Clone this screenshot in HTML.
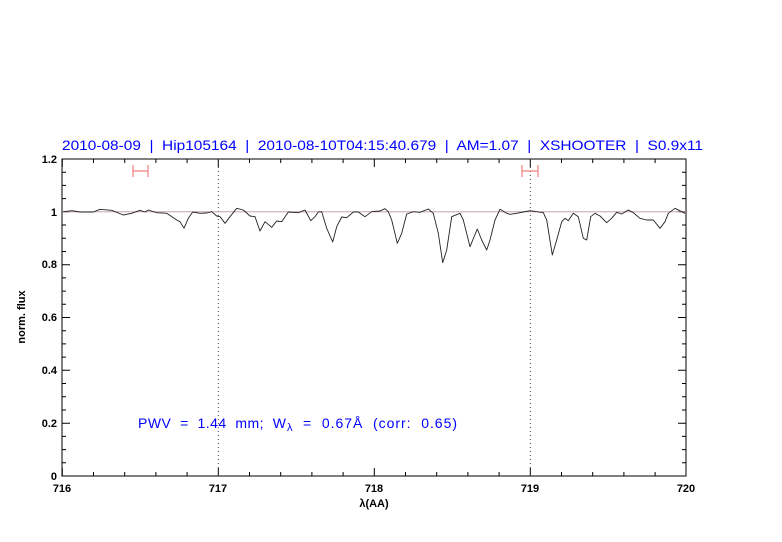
<!DOCTYPE html>
<html><head><meta charset="utf-8"><style>body{margin:0;background:#fff}svg{display:block}</style></head><body>
<svg width="782" height="542" viewBox="0 0 782 542" xmlns="http://www.w3.org/2000/svg" font-family="Liberation Sans, sans-serif">
<text x="62" y="150" font-size="14" fill="#0000ff" textLength="641" lengthAdjust="spacingAndGlyphs" xml:space="preserve">2010-08-09  |  Hip105164  |  2010-08-10T04:15:40.679  |  AM=1.07  |  XSHOOTER  |  S0.9x11</text>
<rect x="62" y="159" width="624" height="317" fill="none" stroke="#000" stroke-width="1"/>
<g stroke="#000" stroke-width="1">
<path d="M62.3 476v-8M218.3 476v-8M374.3 476v-8M530.3 476v-8M686 476v-8M62.3 159v8M218.3 159v8M374.3 159v8M530.3 159v8M686 159v8
M93.5 476v-4M124.7 476v-4M155.9 476v-4M187.1 476v-4M249.5 476v-4M280.7 476v-4M311.9 476v-4M343.1 476v-4M405.5 476v-4M436.7 476v-4M467.9 476v-4M499.1 476v-4M561.5 476v-4M592.7 476v-4M623.9 476v-4M655.1 476v-4
M93.5 159v4M124.7 159v4M155.9 159v4M187.1 159v4M249.5 159v4M280.7 159v4M311.9 159v4M343.1 159v4M405.5 159v4M436.7 159v4M467.9 159v4M499.1 159v4M561.5 159v4M592.7 159v4M623.9 159v4M655.1 159v4
M62 476h8M62 423.2h8M62 370.3h8M62 317.5h8M62 264.7h8M62 211.8h8M62 159h8M686 476h-8M686 423.2h-8M686 370.3h-8M686 317.5h-8M686 264.7h-8M686 211.8h-8M686 159h-8
M62 462.8h4M62 449.6h4M62 436.4h4M62 410h4M62 396.8h4M62 383.5h4M62 357.1h4M62 343.9h4M62 330.7h4M62 304.3h4M62 291.1h4M62 277.9h4M62 251.5h4M62 238.2h4M62 225h4M62 198.6h4M62 185.4h4M62 172.2h4
M686 462.8h-4M686 449.6h-4M686 436.4h-4M686 410h-4M686 396.8h-4M686 383.5h-4M686 357.1h-4M686 343.9h-4M686 330.7h-4M686 304.3h-4M686 291.1h-4M686 277.9h-4M686 251.5h-4M686 238.2h-4M686 225h-4M686 198.6h-4M686 185.4h-4M686 172.2h-4"/>
</g>
<g font-size="11" font-weight="bold" text-anchor="middle" fill="#000">
<text x="62" y="492">716</text><text x="218" y="492">717</text><text x="374" y="492">718</text><text x="530" y="492">719</text><text x="686" y="492">720</text>
<text x="374" y="507">λ(AA)</text>
</g>
<g font-size="11" font-weight="bold" text-anchor="end" fill="#000">
<text x="57" y="480">0</text><text x="57" y="427">0.2</text><text x="57" y="374">0.4</text><text x="57" y="321">0.6</text><text x="57" y="268">0.8</text><text x="57" y="216">1</text><text x="57" y="163">1.2</text>
</g>
<text transform="translate(25,317) rotate(-90)" font-size="11" font-weight="bold" text-anchor="middle">norm. flux</text>
<path d="M218.3 159V476M530.3 159V476" stroke="#444" stroke-width="1" stroke-dasharray="1,3"/>
<path d="M62 211.8H686" stroke="#b99" stroke-width="0.8"/>
<path d="M133 171h15M133 165v12M148 165v12M522 171h16M522 165v12M538 165v12" stroke="#f08080" stroke-width="1.2" fill="none"/>
<polyline fill="none" stroke="#222" stroke-width="0.9" stroke-linejoin="round" points="63.3,211.7 71.7,210.7 80,212 93.3,212 100,209.3 111.7,210.3 123.3,215 131.7,213.3 140,210.3 145,212 148.3,210 156.7,212.7 166.7,213.3 176.7,220 180,221.7 184,228.3 188.3,218.3 192.7,212 200,213.3 206.7,213 211.7,211.7 216.7,216 220,216.7 225,223.3 230,216.7 236.7,208.3 243.3,210 250,216 255,216.7 260,231 265,221.7 271.7,227.3 276.7,221 281.7,221.7 288.3,212 298.3,212.7 305,210 310.7,220.7 315,216.7 318.3,212 321.7,211.7 326.7,228.3 332.7,242 336.7,226.7 341.7,217 346.7,217.7 353.3,212 358.3,212 365,216.7 371.7,211.7 380,211 385,208.7 388.3,211.7 391.7,220 397.3,243.3 401.7,233.3 406.7,214 413.3,211.7 420,212.3 428.3,209 433.3,213.3 438.3,233.3 442.7,262.7 446.7,250 451.7,216.7 460,213.3 463.3,220 470,246.7 477.3,229 481.7,240 486.7,250 490,240 495,220 500,209.3 506.7,213.3 510,214.3 516.7,213.3 523.3,212 530,210.7 543.3,212.7 546.7,220 552.3,255 556.7,240 561.7,221.7 565,218.3 568.3,220.7 573.3,213.3 578.3,216.7 583.3,238.3 586.7,240 590.7,216.7 595,213.3 600,216 606.7,222.7 611.7,218.3 616.7,212.3 621.7,214 628.3,210 633.3,212.7 640,218.3 646.7,220 653.3,220 660,228.3 665,221.7 668.3,213.3 675,208.3 681.7,211.7 685,213.3"/>
<g font-size="14" fill="#0000ff">
<text x="138" y="428" textLength="148" lengthAdjust="spacing" xml:space="preserve">PWV  =  1.44  mm;  W</text>
<text x="287" y="431" font-size="11">λ</text>
<text x="303" y="428" textLength="154" lengthAdjust="spacing" xml:space="preserve">=  0.67Å  (corr:  0.65)</text>
</g>
</svg>
</body></html>
